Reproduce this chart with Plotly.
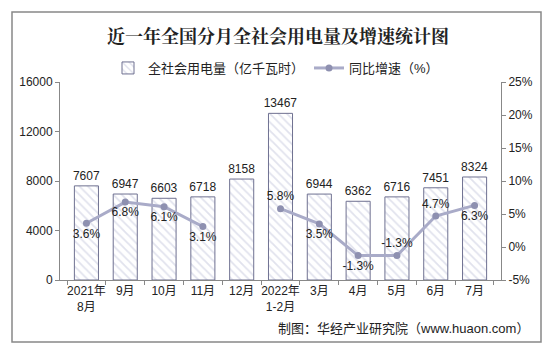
import plotly.graph_objects as go

categories = ["2021年<br>8月", "9月", "10月", "11月", "12月", "2022年<br>1-2月",
              "3月", "4月", "5月", "6月", "7月"]
power = [7607, 6947, 6603, 6718, 8158, 13467, 6944, 6362, 6716, 7451, 8324]
growth = [3.6, 6.8, 6.1, 3.1, None, 5.8, 3.5, -1.3, -1.3, 4.7, 6.3]
growth_text_pos = ["bottom center", "bottom center", "bottom center", "bottom center", "top center",
                   "top center", "bottom center", "bottom center", "top center", "top center",
                   "bottom center"]
y2_ticks = [-5, 0, 5, 10, 15, 20, 25]
y2_ticktext = ["-5%", "0%", "5%", "10%", "15%", "20%", "25%"]
y1_ticks = [0, 4000, 8000, 12000, 16000]

FONT = "Liberation Sans, Arial, Noto Sans CJK SC, sans-serif"

fig = go.Figure()
fig.add_trace(go.Bar(
    x=categories, y=power, name="全社会用电量（亿千瓦时）",
    width=0.62,
    marker=dict(color="white",
                line=dict(color="#6f7191", width=1),
                pattern=dict(shape="\\", fgcolor="#c3c6dc", bgcolor="white", size=6, solidity=0.3)),
    text=[str(v) for v in power], textposition="outside", constraintext="none",
    textfont=dict(size=12, color="#222"), cliponaxis=False,
))
growth_labels = [("" if g is None else (f"{g:.1f}%")) for g in growth]
fig.add_trace(go.Scatter(
    x=categories, y=growth, name="同比增速（%）", yaxis="y2",
    mode="lines+markers+text",
    line=dict(color="#a9abc8", width=3),
    marker=dict(color="#8e90b0", size=7),
    text=growth_labels, textposition=growth_text_pos,
    textfont=dict(size=12, color="#222"), cliponaxis=False,
    connectgaps=False,
))

W, H = 549, 354
L, R, T, B = 60, 48, 82, 74
pw, ph = W - L - R, H - T - B

def px(x):
    return (x - L) / pw

def py(y):
    return (H - B - y) / ph

fig.update_layout(
    width=W, height=H,
    margin=dict(l=L, r=R, t=T, b=B),
    paper_bgcolor="white", plot_bgcolor="white",
    font=dict(family=FONT, size=12, color="#222"),
    title=dict(text="<b>近一年全国分月全社会用电量及增速统计图</b>",
               x=px(278), xref="paper", xanchor="center",
               y=1 - 37 / H, yanchor="middle",
               font=dict(size=18, color="#222", family="Noto Serif CJK SC, Noto Sans CJK SC, serif")),
    legend=dict(orientation="h", x=px(276), xanchor="center", xref="paper",
                y=py(68), yanchor="middle", font=dict(size=13, color="#222"),
                bgcolor="rgba(0,0,0,0)", itemwidth=30, tracegroupgap=0),
    showlegend=True,
    bargap=0.38,
    xaxis=dict(showline=True, linecolor="#888", linewidth=1, ticks="outside",
               tickson="boundaries", ticklen=4, tickcolor="#888", tickangle=0,
               tickfont=dict(size=12), showgrid=False),
    yaxis=dict(range=[0, 16000], tickvals=y1_ticks, tickformat="d", showline=True,
               linecolor="#888", linewidth=1, ticks="outside", ticklen=4, tickcolor="#888",
               showgrid=False, zeroline=False, tickfont=dict(size=12)),
    yaxis2=dict(range=[-5, 25], tickvals=y2_ticks, ticktext=y2_ticktext, overlaying="y",
                side="right", showline=True, linecolor="#888", linewidth=1, ticks="outside",
                ticklen=4, tickcolor="#888", showgrid=False, zeroline=False,
                tickfont=dict(size=12)),
    shapes=[dict(type="rect", xref="paper", yref="paper",
                 x0=px(12), x1=px(541), y0=py(342), y1=py(12),
                 line=dict(color="#888", width=1.5), fillcolor="rgba(0,0,0,0)", layer="below")],
    annotations=[dict(text="制图：华经产业研究院（www.huaon.com）", xref="paper", yref="paper",
                      x=px(531), y=py(328), xanchor="right", yanchor="middle",
                      showarrow=False, font=dict(size=13, color="#222"))],
)

fig.write_html("out.html")
